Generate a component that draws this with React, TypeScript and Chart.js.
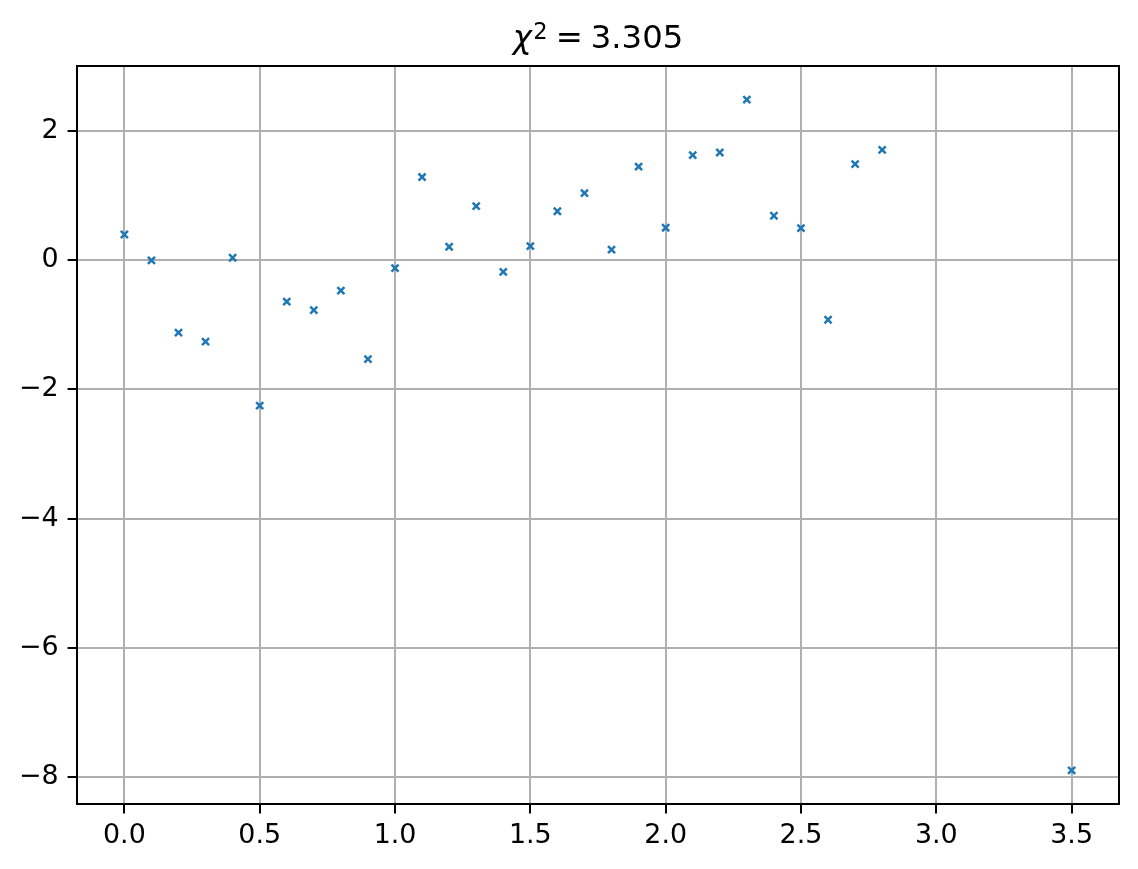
import React, { useEffect, useRef } from 'react';
import { Chart, registerables } from 'chart.js';

Chart.register(...registerables);

const xValues = [0.0, 0.1, 0.2, 0.3, 0.4, 0.5, 0.6, 0.7, 0.8, 0.9, 1.0, 1.1, 1.2, 1.3, 1.4, 1.5, 1.6, 1.7, 1.8, 1.9, 2.0, 2.1, 2.2, 2.3, 2.4, 2.5, 2.6, 2.7, 2.8, 3.5];
const yValues = [0.40, 0.0, -1.12, -1.26, 0.04, -2.25, -0.64, -0.77, -0.47, -1.53, -0.12, 1.29, 0.21, 0.84, -0.18, 0.22, 0.76, 1.04, 0.165, 1.45, 0.505, 1.63, 1.67, 2.49, 0.69, 0.50, -0.92, 1.49, 1.71, -7.90];
const xTicks = [0.0, 0.5, 1.0, 1.5, 2.0, 2.5, 3.0, 3.5];
const yTicks = [-8, -6, -4, -2, 0, 2];
const chiSquared = '3.305';

const FONT = "'DejaVu Sans', 'Liberation Sans', sans-serif";
const TICK_PX = 26.9;
const TITLE_PX = 32.3;

function paddedRange(vals: number[]) {
  const mn = Math.min(...vals);
  const mx = Math.max(...vals);
  const m = (mx - mn) * 0.05;
  return [mn - m, mx + m];
}

const fmtY = (v: number) => (v < 0 ? '\u2212' + Math.abs(v) : String(v));

const framePlugin = {
  id: 'frameAndTitle',
  afterDraw(chart: any) {
    const { ctx, chartArea } = chart;
    ctx.save();
    ctx.strokeStyle = '#000';
    ctx.lineWidth = 2;
    ctx.strokeRect(chartArea.left, chartArea.top, chartArea.right - chartArea.left, chartArea.bottom - chartArea.top);

    // title: χ² = value
    const cx = (chartArea.left + chartArea.right) / 2;
    const baseline = 48;
    const supBaseline = 38.5;
    ctx.fillStyle = '#000';
    ctx.textBaseline = 'alphabetic';
    ctx.textAlign = 'left';
    const fMain = `${TITLE_PX}px ${FONT}`;
    const fItal = `italic ${TITLE_PX}px ${FONT}`;
    const fSup = `${TITLE_PX * 0.7}px ${FONT}`;
    ctx.font = fItal;
    const wChi = ctx.measureText('\u03c7').width;
    ctx.font = fSup;
    const wSup = ctx.measureText('2').width;
    ctx.font = fMain;
    const wEq = ctx.measureText('=').width;
    const wVal = ctx.measureText(chiSquared).width;
    const g1 = 1.5, g2 = 8, g3 = 8;
    const total = wChi + g1 + wSup + g2 + wEq + g3 + wVal;
    let x = cx - total / 2;
    ctx.font = fItal;
    ctx.fillText('\u03c7', x, baseline);
    x += wChi + g1;
    ctx.font = fSup;
    ctx.fillText('2', x, supBaseline);
    x += wSup + g2;
    ctx.font = fMain;
    ctx.fillText('=', x, baseline);
    x += wEq + g3;
    ctx.fillText(chiSquared, x, baseline);
    ctx.restore();
  },
};

export default function App() {
  const ref = useRef<HTMLCanvasElement | null>(null);

  useEffect(() => {
    if (!ref.current) return;
    const [xMin, xMax] = paddedRange(xValues);
    const [yMin, yMax] = paddedRange(yValues);
    const points = xValues.map((x, i) => ({ x, y: yValues[i] }));

    const chart = new Chart(ref.current, {
      type: 'scatter',
      data: {
        datasets: [
          {
            data: points,
            pointStyle: 'crossRot',
            pointRadius: 5,
            pointHoverRadius: 5,
            borderColor: '#1f77b4',
            backgroundColor: '#1f77b4',
            borderWidth: 2.5,
            pointBorderWidth: 2.5,
          },
        ],
      },
      options: {
        animation: false,
        responsive: false,
        devicePixelRatio: 1,
        events: [],
        layout: { padding: { left: 0, top: 66, right: 19, bottom: 0 } },
        plugins: {
          legend: { display: false },
          title: { display: false },
          tooltip: { enabled: false },
        },
        scales: {
          x: {
            type: 'linear',
            min: xMin,
            max: xMax,
            afterFit: (s: any) => {
              s.height = 65;
            },
            afterBuildTicks: (s: any) => {
              s.ticks = xTicks.map((v) => ({ value: v }));
            },
            ticks: {
              autoSkip: false,
              includeBounds: false,
              maxRotation: 0,
              padding: 6,
              color: '#000',
              font: { family: FONT, size: TICK_PX },
              callback: (v: any) => Number(v).toFixed(1),
            },
            grid: {
              color: '#b0b0b0',
              lineWidth: 2,
              drawTicks: true,
              tickLength: 9.4,
              tickColor: '#000',
              tickWidth: 2,
            },
            border: { display: false },
          },
          y: {
            type: 'linear',
            min: yMin,
            max: yMax,
            afterFit: (s: any) => {
              s.width = 77;
            },
            afterBuildTicks: (s: any) => {
              s.ticks = yTicks.map((v) => ({ value: v }));
            },
            ticks: {
              autoSkip: false,
              includeBounds: false,
              padding: 9,
              color: '#000',
              font: { family: FONT, size: TICK_PX },
              callback: (v: any) => fmtY(Number(v)),
            },
            grid: {
              color: '#b0b0b0',
              lineWidth: 2,
              drawTicks: true,
              tickLength: 9.4,
              tickColor: '#000',
              tickWidth: 2,
            },
            border: { display: false },
          },
        },
      },
      plugins: [framePlugin],
    });
    return () => chart.destroy();
  }, []);

  return (
    <div style={{ position: 'fixed', left: 0, top: 0, width: 1138, height: 869, background: '#fff' }}>
      <canvas ref={ref} width={1138} height={869} style={{ width: 1138, height: 869, display: 'block' }} />
    </div>
  );
}
